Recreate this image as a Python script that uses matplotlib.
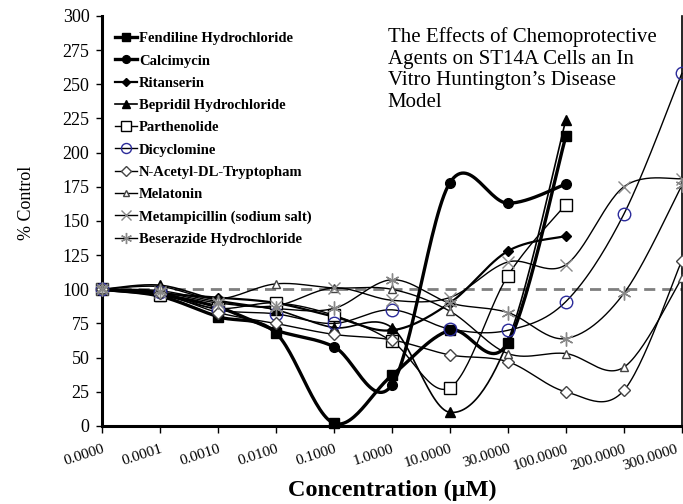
import matplotlib
matplotlib.use('Agg')
import matplotlib.pyplot as plt
import matplotlib.transforms as mtransforms
from matplotlib.lines import Line2D
import numpy as np

plt.rcParams['font.family'] = ['Liberation Serif', 'DejaVu Serif']

# concentrations (categorical axis)
conc = ['0.0000', '0.0001', '0.0010', '0.0100', '0.1000', '1.0000',
        '10.0000', '30.0000', '100.0000', '200.0000', '300.0000']

# % control for each compound
fendiline = [100, 95, 80, 68, 2, 37, 70, 61, 212]
calcimycin = [100, 96, 87, 70, 58, 30, 178, 163, 177]
ritanserin = [100, 97, 94, 90, 80, 70, 90, 128, 139]
bepridil = [100, 103, 92, 85, 72, 72, 10, 62, 224]
parthenolide = [100, 96, 86, 90, 81, 62, 28, 110, 162]
dicyclomine = [100, 98, 85, 82, 75, 85, 71, 70, 91, 155, 258]
acetyl_trp = [100, 97, 83, 75, 67, 63, 52, 47, 25, 26, 121]
melatonin = [100, 102, 93, 104, 101, 100, 84, 53, 53, 43, 108]
metampicillin = [100, 98, 90, 88, 101, 92, 94, 120, 118, 175, 181]
beserazide = [100, 99, 91, 86, 86, 107, 90, 83, 64, 97, 176]

names = ['Fendiline Hydrochloride', 'Calcimycin', 'Ritanserin',
         'Bepridil Hydrochloride', 'Parthenolide', 'Dicyclomine',
         'N-Acetyl-DL-Tryptopham', 'Melatonin',
         'Metampicillin (sodium salt)', 'Beserazide Hydrochloride']
series = [fendiline, calcimycin, ritanserin, bepridil, parthenolide,
          dicyclomine, acetyl_trp, melatonin, metampicillin, beserazide]

# style per series: marker, size, face, edge, line width
styles = [
    dict(marker='s', ms=7, mfc='black', mec='black', lw=2.4),
    dict(marker='o', ms=7, mfc='black', mec='black', lw=2.4),
    dict(marker='D', ms=5, mfc='black', mec='black', lw=1.6),
    dict(marker='^', ms=7, mfc='black', mec='black', lw=1.2),
    dict(marker='s', ms=9, mfc='white', mec='black', lw=1.0),
    dict(marker='o', ms=9, mfc='none', mec='#2b2b9a', lw=1.0),
    dict(marker='D', ms=6, mfc='white', mec='#444444', lw=1.0),
    dict(marker='^', ms=6, mfc='white', mec='#444444', lw=1.0),
    dict(marker='x', ms=9, mfc='none', mec='#888888', lw=1.0),
    dict(marker=(6, 2, 0), ms=10, mfc='none', mec='#888888', lw=1.0),
]


def smooth(y, n=30):
    # Excel-style smoothed line: cubic bezier with catmull-rom tangents
    y = np.asarray(y, float)
    x = np.arange(len(y), dtype=float)
    xs, ys = [], []
    for i in range(len(y) - 1):
        x0, y0 = x[max(i - 1, 0)], y[max(i - 1, 0)]
        x3, y3 = x[min(i + 2, len(y) - 1)], y[min(i + 2, len(y) - 1)]
        c1x = x[i] + (x[i + 1] - x0) / 6
        c1y = y[i] + (y[i + 1] - y0) / 6
        c2x = x[i + 1] - (x3 - x[i]) / 6
        c2y = y[i + 1] - (y3 - y[i]) / 6
        t = np.linspace(0, 1, n)
        bx = (1-t)**3*x[i] + 3*(1-t)**2*t*c1x + 3*(1-t)*t**2*c2x + t**3*x[i+1]
        by = (1-t)**3*y[i] + 3*(1-t)**2*t*c1y + 3*(1-t)*t**2*c2y + t**3*y[i+1]
        xs.append(bx)
        ys.append(by)
    return np.concatenate(xs), np.concatenate(ys)


fig = plt.figure(figsize=(6.83, 5.04), dpi=100)
ax = fig.add_axes([0.1493, 0.1548, 0.849, 0.8135])

ax.axhline(100, color='#7f7f7f', ls=(0, (4, 2.5)), lw=2, zorder=1)

handles = []
for name, vals, st in zip(names, series, styles):
    sx, sy = smooth(vals)
    ax.plot(sx, sy, color='black', lw=st['lw'], zorder=2, clip_on=False)
    ax.plot(np.arange(len(vals)), vals, ls='none', marker=st['marker'],
            ms=st['ms'], mfc=st['mfc'], mec=st['mec'], mew=1.0,
            zorder=3, clip_on=False)
    handles.append(Line2D([], [], color='black', lw=st['lw'],
                          marker=st['marker'], ms=st['ms'] * 0.8,
                          mfc=st['mfc'], mec=st['mec'], mew=1.0))

ax.set_xlim(0, 10)
ax.set_ylim(0, 300)
ax.set_yticks(np.arange(0, 301, 25))
ax.set_xticks(np.arange(len(conc)))
ax.set_xticklabels(conc, rotation=18, ha='right', rotation_mode='anchor',
                   fontsize=11)
ax.tick_params(axis='y', labelsize=13, length=4, width=1, direction='out',
               pad=5)
ax.tick_params(axis='x', length=5, width=1, direction='out', pad=7)

# keep the last label inside the figure
last = ax.get_xticklabels()[-1]
last.set_transform(last.get_transform() +
                   mtransforms.ScaledTranslation(-6 / 100, 0, fig.dpi_scale_trans))

for side in ['left', 'bottom']:
    ax.spines[side].set_linewidth(2.2)
ax.spines['top'].set_visible(False)
ax.spines['right'].set_linewidth(1.2)

ax.set_xlabel('Concentration (\u03bcM)', fontsize=17.5, fontweight='bold',
              labelpad=5)
ax.set_ylabel('% Control', fontsize=13)
ax.yaxis.set_label_coords(-0.115, 0.545)

ax.legend(handles, names, loc='upper left', bbox_to_anchor=(0.012, 0.975),
          frameon=False, prop={'weight': 'bold', 'size': 10.5},
          handlelength=1.5, handletextpad=0.15, labelspacing=0.62,
          borderaxespad=0)

ax.text(0.493, 0.972, 'The Effects of Chemoprotective\nAgents on ST14A Cells an In\n'
        'Vitro Huntington\u2019s Disease\nModel', transform=ax.transAxes,
        fontsize=15, va='top', ha='left', linespacing=1.17)

fig.savefig('out.png', dpi=100)
